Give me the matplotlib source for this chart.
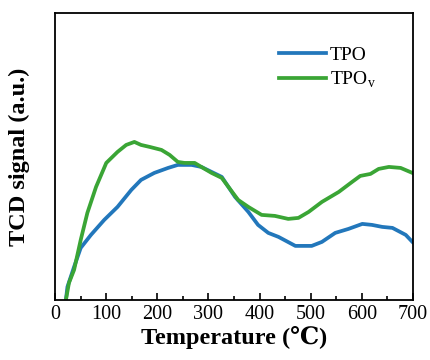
import matplotlib
matplotlib.use("Agg")
import matplotlib.pyplot as plt
from matplotlib.ticker import MultipleLocator

# ------------------------------------------------------------------
# Data (temperature in °C, signal in a.u.)
# ------------------------------------------------------------------
tpo_temp = [21, 24, 37, 50, 70, 96, 122, 149, 168, 194, 221, 240, 267,
            286, 306, 326, 352, 378, 397, 417, 437, 470, 502, 522, 548,
            574, 601, 620, 640, 660, 686, 699]
tpo_signal = [0, 13, 33, 52, 65, 80, 93, 110, 120, 127, 132, 135, 135,
              133, 128, 123, 103, 88, 75, 67, 63, 54, 54, 58, 67,
              71, 76, 75, 73, 72, 65, 58]

tpov_temp = [21, 27, 37, 50, 63, 80, 100, 122, 139, 155, 168, 185, 208,
             224, 240, 253, 273, 286, 306, 326, 358, 378, 404, 430, 456,
             476, 496, 522, 555, 581, 597, 617, 633, 653, 676, 699]
tpov_signal = [0, 17, 30, 60, 87, 113, 137, 148, 155, 158, 155, 153, 150,
               145, 138, 137, 137, 133, 127, 122, 100, 93, 85, 84, 81,
               82, 88, 98, 108, 118, 124, 126, 131, 133, 132, 127]

x_ticks = [0, 100, 200, 300, 400, 500, 600, 700]

SERIF = ["Liberation Serif", "DejaVu Serif", "DejaVu Sans"]
plt.rcParams["font.family"] = SERIF
plt.rcParams["mathtext.fontset"] = "custom"
plt.rcParams["mathtext.rm"] = "Liberation Serif"

fig = plt.figure(figsize=(4.31, 3.6), dpi=100)
ax = fig.add_axes([0.128, 0.167, 0.83, 0.797])

ax.plot(tpo_temp, tpo_signal, color="#2277bb", lw=2.7, label="TPO")
ax.plot(tpov_temp, tpov_signal, color="#3aa535", lw=2.7,
        label=r"TPO$_\mathregular{v}$")

ax.set_xlim(0, 700)
ax.set_ylim(0, 287)
ax.set_xticks(x_ticks)
ax.xaxis.set_minor_locator(MultipleLocator(50))
ax.tick_params(axis="x", which="both", direction="in", labelsize=14.5,
               pad=4, width=1.2)
ax.tick_params(axis="x", which="major", length=5)
ax.tick_params(axis="x", which="minor", length=3)
ax.set_yticks([])
for s in ax.spines.values():
    s.set_linewidth(1.3)

ax.set_xlabel("Temperature (℃)", fontsize=17.5, fontweight="bold",
              labelpad=1)
ax.set_ylabel("TCD signal (a.u.)", fontsize=17.5, fontweight="bold",
              labelpad=18)

ax.legend(loc="upper right", frameon=False, fontsize=14,
          handlelength=2.4, handletextpad=0.2, labelspacing=0.3,
          bbox_to_anchor=(0.945, 0.945))

fig.savefig("out.png", dpi=100)
